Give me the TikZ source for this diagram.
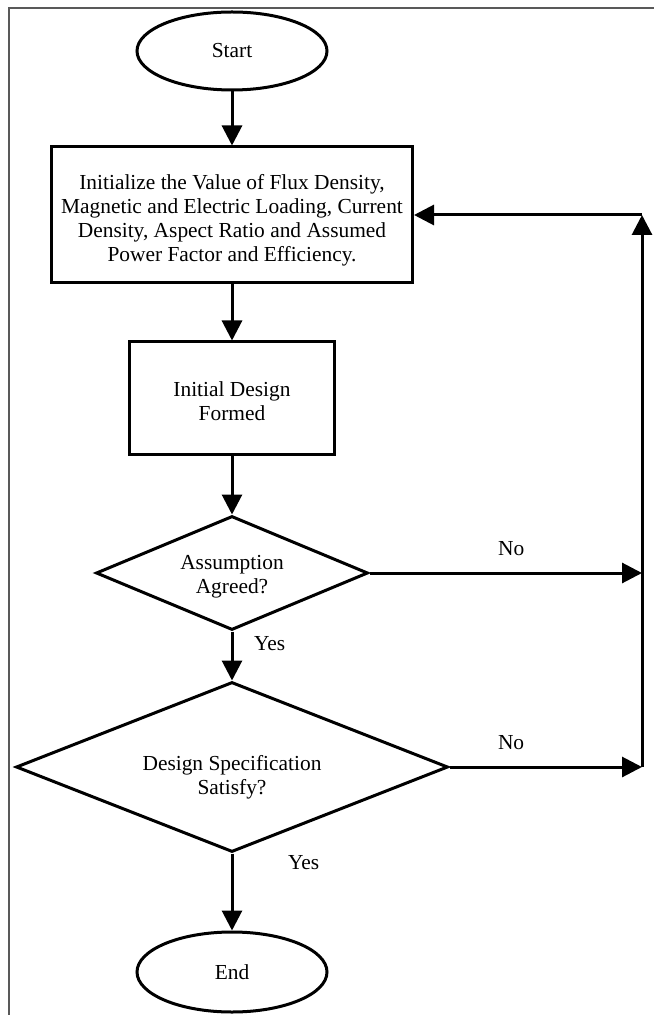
\documentclass[tikz,border=0pt]{standalone}
\usepackage{fontspec}
\setmainfont{Liberation Serif}
\usepackage{tikz}
\usetikzlibrary{shapes.geometric, positioning, arrows.meta, calc}

% text lowered inside its node, keeping the node size
\newcommand{\lowertext}[2]{\raisebox{-#1}[\height][\depth]{\begin{tabular}{@{}c@{}}#2\end{tabular}}}

\begin{document}
\begin{tikzpicture}[
        font=\fontsize{10.7}{12}\selectfont,
        node distance=27pt,
        term/.style={draw, ellipse, line width=1.5pt, minimum width=95pt, minimum height=39pt, inner sep=0pt},
        box/.style={draw, rectangle, line width=1.5pt, align=center},
        decision/.style={draw, diamond, line width=1.5pt, align=center, inner sep=0pt},
        arr/.style={-{Triangle[length=10pt, width=10pt]}, line width=1.5pt},
        frame/.style={draw=black!65, line width=0.6pt}
    ]
    \useasboundingbox (0,0) rectangle (327pt,-507.5pt);
    \draw[frame] (4.5pt,-507.5pt) -- (4.5pt,-4pt) -- (327pt,-4pt);

    \node[term] (start) at (116pt,-25.5pt) {\lowertext{1pt}{Start}};
    \node[box, minimum width=180.5pt, minimum height=68pt] (init) [below=27pt of start] {\lowertext{3pt}{Initialize the Value of Flux Density,\\Magnetic and Electric Loading, Current\\Density, Aspect Ratio and Assumed\\Power Factor and Efficiency.}};
    \node[box, minimum width=102.5pt, minimum height=56pt] (design) [below=28pt of init] {\lowertext{3pt}{Initial Design\\Formed}};
    \node[decision, aspect=2.4, minimum width=136pt, minimum height=57pt] (agree) [below=29.5pt of design] {\lowertext{2pt}{Assumption\\Agreed?}};
    \node[decision, aspect=2.54, minimum width=216pt, minimum height=85pt] (spec) [below=24.5pt of agree] {\lowertext{5.5pt}{Design Specification\\Satisfy?}};
    \node[term, minimum height=40pt] (finish) [below=38.5pt of spec] {End};

    % return path on the right
    \coordinate (rail) at (321pt,0);
    \coordinate (back1) at (agree.east -| rail);
    \coordinate (back2) at (spec.east -| rail);
    \coordinate (backtop) at (init.east -| rail);

    \draw[arr] (start) -- (init);
    \draw[arr] (init) -- (design);
    \draw[arr] (design) -- (agree);
    \draw[arr] (agree) -- node[pos=0.25, right=7pt] {Yes} (spec);
    \draw[arr] (spec) -- node[pos=0.12, right=24pt] {Yes} (finish);
    \draw[arr] (agree) -- node[pos=0.52, above=4.5pt] {No} (back1);
    \draw[arr] (spec) -- node[pos=0.32, above=4.5pt] {No} (back2);
    \draw[arr] (back2) -- (backtop);
    \draw[arr] (backtop) -- (init);

\end{tikzpicture}
\end{document}
